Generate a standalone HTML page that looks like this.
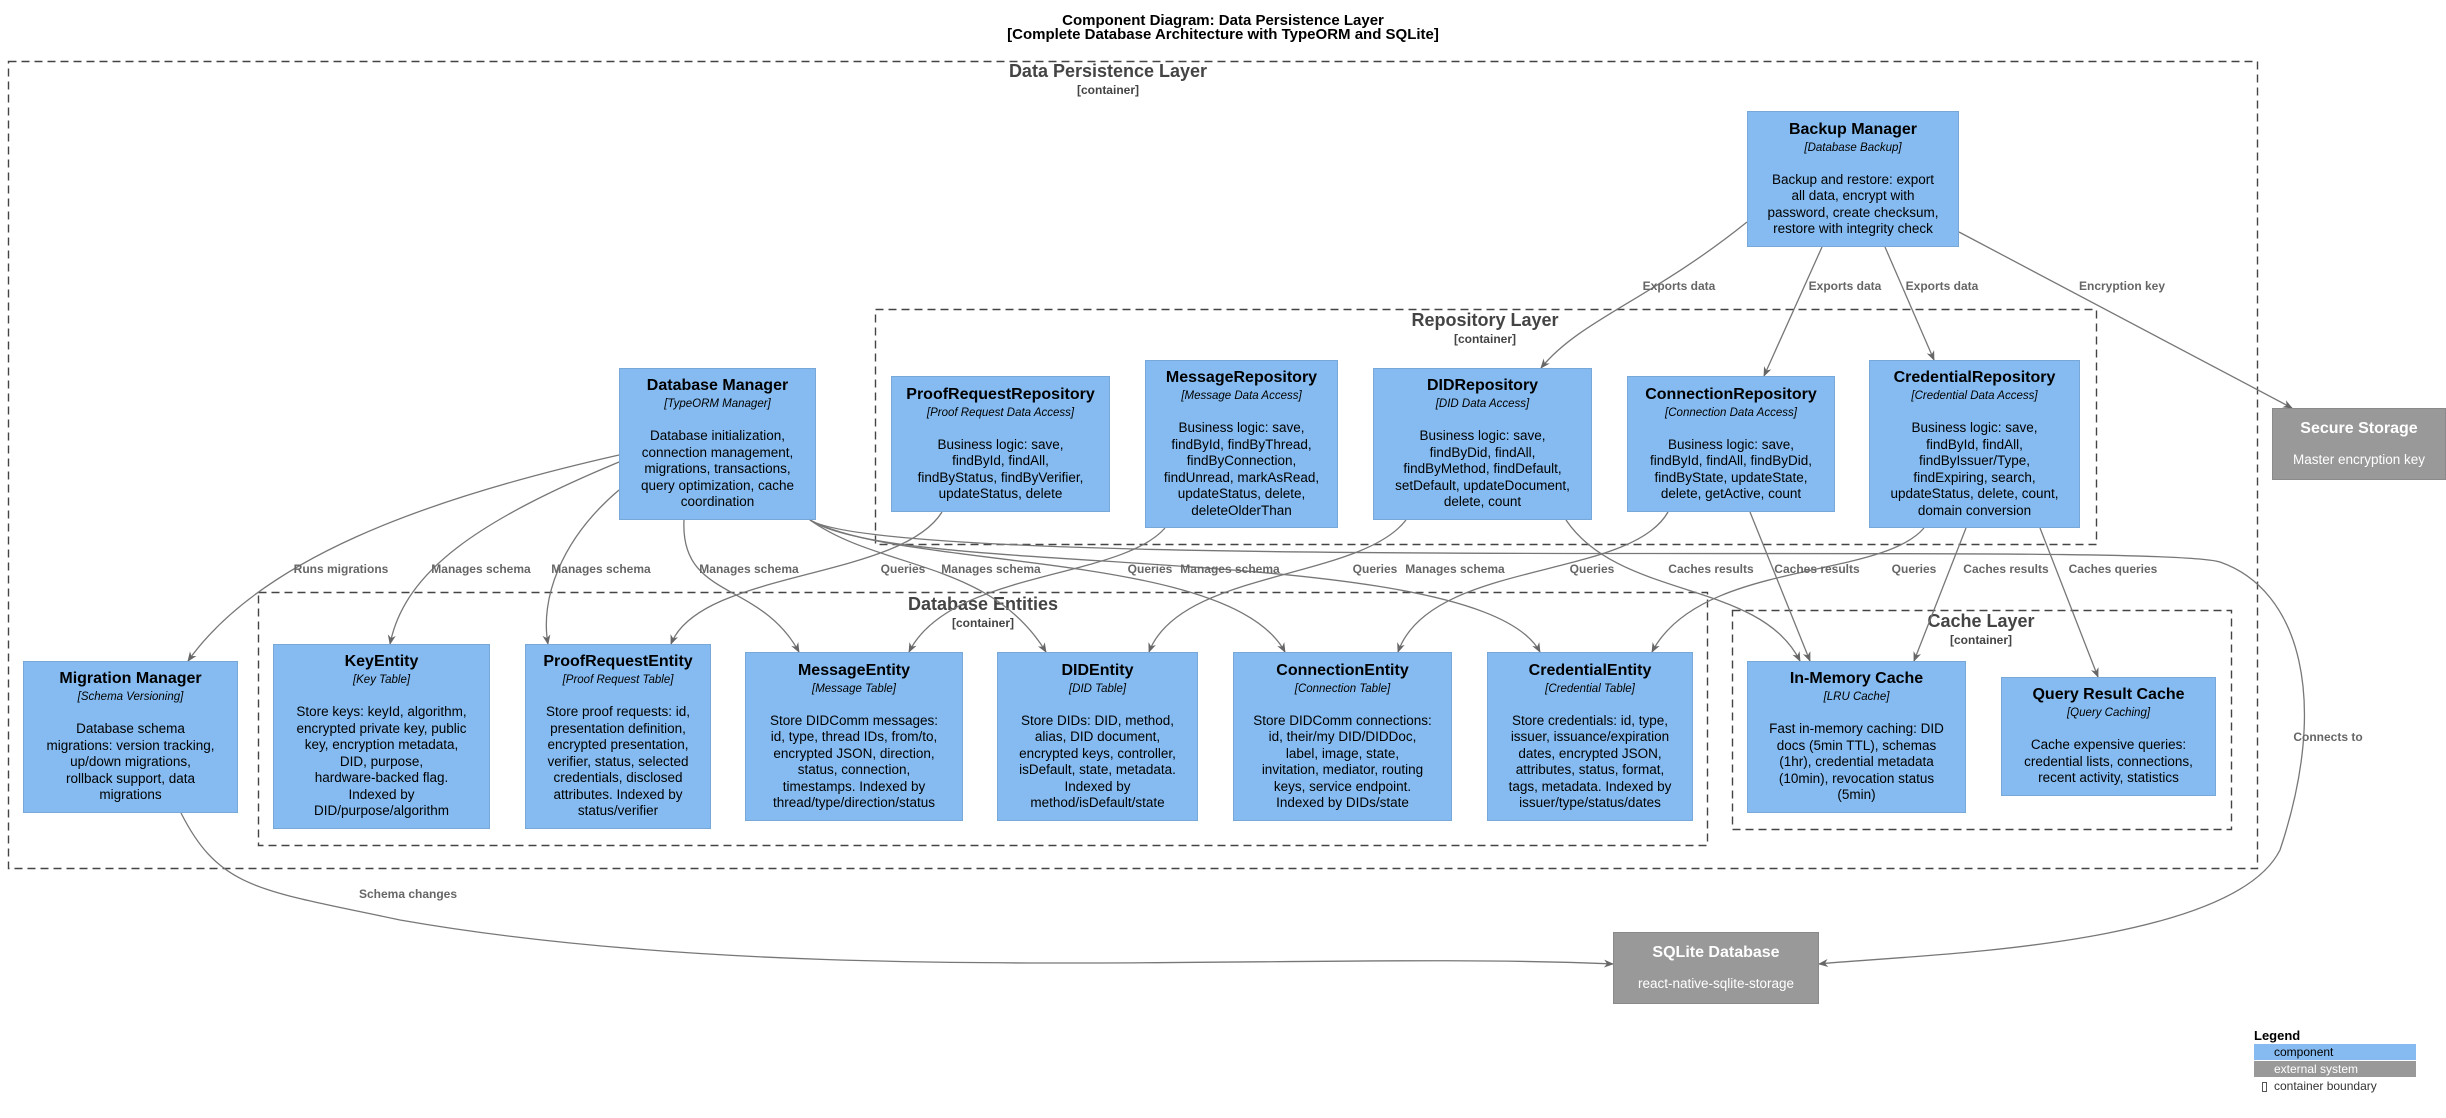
<!DOCTYPE html>
<html><head><meta charset="utf-8"><style>
body{margin:0;width:2446px;height:1118px;background:#fff;position:relative;overflow:hidden;font-family:"Liberation Sans",sans-serif;}
.t{position:absolute;left:0;width:2446px;text-align:center;font-weight:bold;font-size:15px;color:#000}
.bl{position:absolute;text-align:center;color:#444;transform:translateX(-50%);white-space:nowrap}
.bl .n{font-size:18px;font-weight:bold}
.bl .c{font-size:12px;font-weight:bold;margin-top:1px}
.c1{position:absolute;background:#85BBF0;border:1px solid #78A8D8;box-sizing:border-box;display:flex;flex-direction:column;justify-content:center;align-items:center;text-align:center;color:#000;white-space:nowrap}
.c1 .h{font-weight:bold;font-size:16px}
.c1 .k{font-style:italic;font-size:11.5px;margin-top:3px}
.c1 .d{font-size:13.5px;line-height:16.5px;margin-top:18px}
.ext{background:#999;border-color:#8a8a8a;color:#fff}
.el{position:absolute;font-size:12px;color:#666;font-weight:bold;white-space:nowrap;transform:translate(-50%,-50%)}
svg{position:absolute;left:0;top:0}
</style></head><body>
<div class="t" style="top:12px">Component Diagram: Data Persistence Layer</div>
<div class="t" style="top:26px">[Complete Database Architecture with TypeORM and SQLite]</div>

<svg width="2446" height="1118" viewBox="0 0 2446 1118">
<g fill="none" stroke="#444" stroke-width="1.4" stroke-dasharray="8,5">
<rect x="8.5" y="61.5" width="2249" height="807"/>
<rect x="875.5" y="309.5" width="1221" height="235"/>
<rect x="258.5" y="592.5" width="1449" height="253"/>
<rect x="1732.5" y="610.5" width="499" height="219"/>
</g>
</svg>
<div class="bl" style="left:1108px;top:61px"><div class="n">Data Persistence Layer</div><div class="c">[container]</div></div>
<div class="bl" style="left:1485px;top:310px"><div class="n">Repository Layer</div><div class="c">[container]</div></div>
<div class="bl" style="left:983px;top:594px"><div class="n">Database Entities</div><div class="c">[container]</div></div>
<div class="bl" style="left:1981px;top:611px"><div class="n">Cache Layer</div><div class="c">[container]</div></div>

<svg width="2446" height="1118" viewBox="0 0 2446 1118">
<defs><marker id="a" markerWidth="10" markerHeight="10" refX="9" refY="5" orient="auto" markerUnits="userSpaceOnUse"><path d="M0,1 L10,5 L0,9 L3,5 z" fill="#666"/></marker></defs>
<g fill="none" stroke="#777" stroke-width="1.3" marker-end="url(#a)">
<path d="M1747,222 C1650,300 1580,320 1541,368"/>
<path d="M1822,247 L1764,376"/>
<path d="M1885,247 L1934,360"/>
<path d="M1959,232 L2292,408"/>
<path d="M619,455 C420,500 260,560 188,661"/>
<path d="M619,462 C480,520 405,570 390,644"/>
<path d="M619,490 C560,540 540,600 548,644"/>
<path d="M684,520 C680,600 760,580 799,652"/>
<path d="M810,520 C880,570 990,560 1046,652"/>
<path d="M810,520 C900,570 1230,550 1285,652"/>
<path d="M810,520 C900,580 1480,540 1540,652"/>
<path d="M810,520 C900,575 2150,540 2220,562 C2300,590 2330,700 2280,850 C2230,950 1900,955 1819,964"/>
<path d="M942,512 C900,580 700,570 671,644"/>
<path d="M1165,528 C1120,580 950,570 909,652"/>
<path d="M1406,520 C1360,580 1180,570 1149,652"/>
<path d="M1668,512 C1630,580 1430,560 1398,652"/>
<path d="M1924,528 C1880,580 1700,560 1652,652"/>
<path d="M1566,520 C1620,600 1760,580 1800,661"/>
<path d="M1750,512 L1810,661"/>
<path d="M1966,528 L1914,661"/>
<path d="M2040,528 L2098,677"/>
<path d="M181,813 C220,890 260,890 400,920 C800,990 1300,950 1613,964"/>
</g>
</svg>

<div class="el" style="left:1679px;top:286px">Exports data</div>
<div class="el" style="left:1845px;top:286px">Exports data</div>
<div class="el" style="left:1942px;top:286px">Exports data</div>
<div class="el" style="left:2122px;top:286px">Encryption key</div>
<div class="el" style="left:341px;top:569px">Runs migrations</div>
<div class="el" style="left:481px;top:569px">Manages schema</div>
<div class="el" style="left:601px;top:569px">Manages schema</div>
<div class="el" style="left:749px;top:569px">Manages schema</div>
<div class="el" style="left:903px;top:569px">Queries</div>
<div class="el" style="left:991px;top:569px">Manages schema</div>
<div class="el" style="left:1150px;top:569px">Queries</div>
<div class="el" style="left:1230px;top:569px">Manages schema</div>
<div class="el" style="left:1375px;top:569px">Queries</div>
<div class="el" style="left:1455px;top:569px">Manages schema</div>
<div class="el" style="left:1592px;top:569px">Queries</div>
<div class="el" style="left:1711px;top:569px">Caches results</div>
<div class="el" style="left:1817px;top:569px">Caches results</div>
<div class="el" style="left:1914px;top:569px">Queries</div>
<div class="el" style="left:2006px;top:569px">Caches results</div>
<div class="el" style="left:2113px;top:569px">Caches queries</div>
<div class="el" style="left:2328px;top:737px">Connects to</div>
<div class="el" style="left:408px;top:894px">Schema changes</div>

<div class="c1" style="left:1747px;top:111px;width:212px;height:136px"><div class="h">Backup Manager</div><div class="k">[Database Backup]</div><div class="d">Backup and restore: export<br>all data, encrypt with<br>password, create checksum,<br>restore with integrity check</div></div>
<div class="c1" style="left:619px;top:368px;width:197px;height:152px"><div class="h">Database Manager</div><div class="k">[TypeORM Manager]</div><div class="d">Database initialization,<br>connection management,<br>migrations, transactions,<br>query optimization, cache<br>coordination</div></div>
<div class="c1" style="left:891px;top:376px;width:219px;height:136px"><div class="h">ProofRequestRepository</div><div class="k">[Proof Request Data Access]</div><div class="d">Business logic: save,<br>findById, findAll,<br>findByStatus, findByVerifier,<br>updateStatus, delete</div></div>
<div class="c1" style="left:1145px;top:360px;width:193px;height:168px"><div class="h">MessageRepository</div><div class="k">[Message Data Access]</div><div class="d">Business logic: save,<br>findById, findByThread,<br>findByConnection,<br>findUnread, markAsRead,<br>updateStatus, delete,<br>deleteOlderThan</div></div>
<div class="c1" style="left:1373px;top:368px;width:219px;height:152px"><div class="h">DIDRepository</div><div class="k">[DID Data Access]</div><div class="d">Business logic: save,<br>findByDid, findAll,<br>findByMethod, findDefault,<br>setDefault, updateDocument,<br>delete, count</div></div>
<div class="c1" style="left:1627px;top:376px;width:208px;height:136px"><div class="h">ConnectionRepository</div><div class="k">[Connection Data Access]</div><div class="d">Business logic: save,<br>findById, findAll, findByDid,<br>findByState, updateState,<br>delete, getActive, count</div></div>
<div class="c1" style="left:1869px;top:360px;width:211px;height:168px"><div class="h">CredentialRepository</div><div class="k">[Credential Data Access]</div><div class="d">Business logic: save,<br>findById, findAll,<br>findByIssuer/Type,<br>findExpiring, search,<br>updateStatus, delete, count,<br>domain conversion</div></div>
<div class="c1 ext" style="left:2272px;top:408px;width:174px;height:72px"><div class="h">Secure Storage</div><div class="d" style="margin-top:14px">Master encryption key</div></div>

<div class="c1" style="left:23px;top:661px;width:215px;height:152px"><div class="h">Migration Manager</div><div class="k">[Schema Versioning]</div><div class="d">Database schema<br>migrations: version tracking,<br>up/down migrations,<br>rollback support, data<br>migrations</div></div>
<div class="c1" style="left:273px;top:644px;width:217px;height:185px"><div class="h">KeyEntity</div><div class="k">[Key Table]</div><div class="d">Store keys: keyId, algorithm,<br>encrypted private key, public<br>key, encryption metadata,<br>DID, purpose,<br>hardware-backed flag.<br>Indexed by<br>DID/purpose/algorithm</div></div>
<div class="c1" style="left:525px;top:644px;width:186px;height:185px"><div class="h">ProofRequestEntity</div><div class="k">[Proof Request Table]</div><div class="d">Store proof requests: id,<br>presentation definition,<br>encrypted presentation,<br>verifier, status, selected<br>credentials, disclosed<br>attributes. Indexed by<br>status/verifier</div></div>
<div class="c1" style="left:745px;top:652px;width:218px;height:169px"><div class="h">MessageEntity</div><div class="k">[Message Table]</div><div class="d">Store DIDComm messages:<br>id, type, thread IDs, from/to,<br>encrypted JSON, direction,<br>status, connection,<br>timestamps. Indexed by<br>thread/type/direction/status</div></div>
<div class="c1" style="left:997px;top:652px;width:201px;height:169px"><div class="h">DIDEntity</div><div class="k">[DID Table]</div><div class="d">Store DIDs: DID, method,<br>alias, DID document,<br>encrypted keys, controller,<br>isDefault, state, metadata.<br>Indexed by<br>method/isDefault/state</div></div>
<div class="c1" style="left:1233px;top:652px;width:219px;height:169px"><div class="h">ConnectionEntity</div><div class="k">[Connection Table]</div><div class="d">Store DIDComm connections:<br>id, their/my DID/DIDDoc,<br>label, image, state,<br>invitation, mediator, routing<br>keys, service endpoint.<br>Indexed by DIDs/state</div></div>
<div class="c1" style="left:1487px;top:652px;width:206px;height:169px"><div class="h">CredentialEntity</div><div class="k">[Credential Table]</div><div class="d">Store credentials: id, type,<br>issuer, issuance/expiration<br>dates, encrypted JSON,<br>attributes, status, format,<br>tags, metadata. Indexed by<br>issuer/type/status/dates</div></div>
<div class="c1" style="left:1747px;top:661px;width:219px;height:152px"><div class="h">In-Memory Cache</div><div class="k">[LRU Cache]</div><div class="d">Fast in-memory caching: DID<br>docs (5min TTL), schemas<br>(1hr), credential metadata<br>(10min), revocation status<br>(5min)</div></div>
<div class="c1" style="left:2001px;top:677px;width:215px;height:119px"><div class="h">Query Result Cache</div><div class="k">[Query Caching]</div><div class="d">Cache expensive queries:<br>credential lists, connections,<br>recent activity, statistics</div></div>
<div class="c1 ext" style="left:1613px;top:932px;width:206px;height:72px"><div class="h">SQLite Database</div><div class="d" style="margin-top:14px">react-native-sqlite-storage</div></div>

<div style="position:absolute;left:2254px;top:1028px;font-size:13px;font-weight:bold">Legend</div>
<div style="position:absolute;left:2254px;top:1044px;width:162px;height:16px;background:#85BBF0;font-size:12px;line-height:16px;padding-left:20px;box-sizing:border-box">component</div>
<div style="position:absolute;left:2254px;top:1061px;width:162px;height:16px;background:#999;color:#fff;font-size:12px;line-height:16px;padding-left:20px;box-sizing:border-box">external system</div>
<div style="position:absolute;left:2254px;top:1078px;width:162px;height:16px;font-size:12px;line-height:16px;padding-left:20px;box-sizing:border-box;color:#333">container boundary</div>
<div style="position:absolute;left:2262px;top:1082px;width:3px;height:8px;border:1px solid #555"></div>
</body></html>
